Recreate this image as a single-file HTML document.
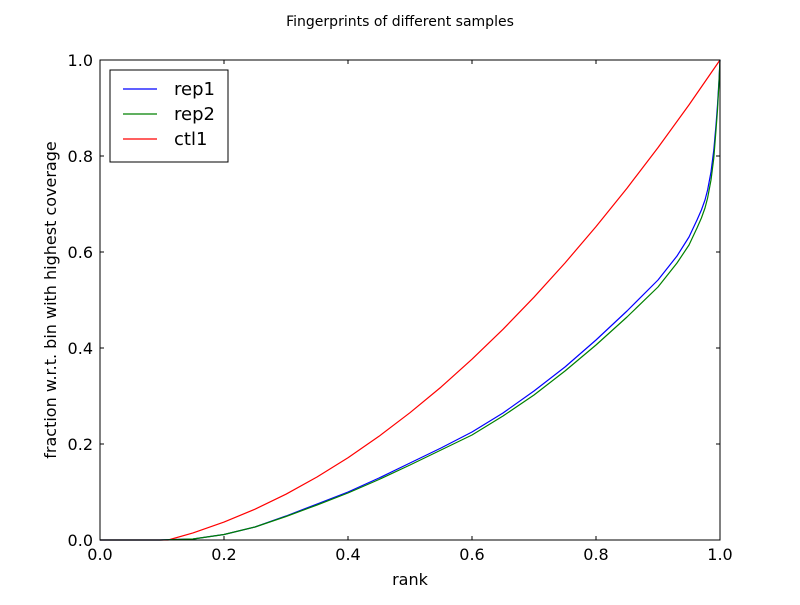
<!DOCTYPE html>
<html><head><meta charset="utf-8"><style>body{margin:0;background:#fff}</style></head>
<body>
<svg width="800" height="600" xmlns="http://www.w3.org/2000/svg" font-family="DejaVu Sans, Liberation Sans, sans-serif">
<rect width="800" height="600" fill="#fff"/>
<text x="400" y="26" text-anchor="middle" font-size="14">Fingerprints of different samples</text>
<g stroke="#000" stroke-width="1">
<line x1="100" y1="540" x2="100" y2="536"/><line x1="224" y1="540" x2="224" y2="536"/><line x1="348" y1="540" x2="348" y2="536"/><line x1="472" y1="540" x2="472" y2="536"/><line x1="596" y1="540" x2="596" y2="536"/><line x1="720" y1="540" x2="720" y2="536"/>
<line x1="100" y1="60" x2="100" y2="64"/><line x1="224" y1="60" x2="224" y2="64"/><line x1="348" y1="60" x2="348" y2="64"/><line x1="472" y1="60" x2="472" y2="64"/><line x1="596" y1="60" x2="596" y2="64"/><line x1="720" y1="60" x2="720" y2="64"/>
<line x1="100" y1="540" x2="104" y2="540"/><line x1="100" y1="444" x2="104" y2="444"/><line x1="100" y1="348" x2="104" y2="348"/><line x1="100" y1="252" x2="104" y2="252"/><line x1="100" y1="156" x2="104" y2="156"/><line x1="100" y1="60" x2="104" y2="60"/>
<line x1="720" y1="540" x2="716" y2="540"/><line x1="720" y1="444" x2="716" y2="444"/><line x1="720" y1="348" x2="716" y2="348"/><line x1="720" y1="252" x2="716" y2="252"/><line x1="720" y1="156" x2="716" y2="156"/><line x1="720" y1="60" x2="716" y2="60"/>
</g>
<g font-size="16" text-anchor="middle">
<text x="100" y="560">0.0</text><text x="224" y="560">0.2</text><text x="348" y="560">0.4</text><text x="472" y="560">0.6</text><text x="596" y="560">0.8</text><text x="720" y="560">1.0</text>
</g>
<g font-size="16" text-anchor="end">
<text x="93" y="546">0.0</text><text x="93" y="450">0.2</text><text x="93" y="354">0.4</text><text x="93" y="258">0.6</text><text x="93" y="162">0.8</text><text x="93" y="66">1.0</text>
</g>
<text x="410" y="585" text-anchor="middle" font-size="16">rank</text>
<text transform="translate(56,300) rotate(-90)" text-anchor="middle" font-size="16">fraction w.r.t. bin with highest coverage</text>
<g fill="none" stroke-width="1.2" stroke-linejoin="round">
<polyline stroke="#ff0000" points="100,540 168.2,540 193,532.9 224,522.1 255,509.2 286,494.2 317,477 348,457.7 379,436.3 410,412.7 441,387.1 472,359.2 503,329.3 534,297.2 565,263 596,226.6 627,188.2 658,147.6 689,104.9 720,60"/>
<polyline stroke="#0000ff" points="100,540 160,540 193,539 224,534.5 255,527 286,516 317,504 348,492 379,478 410,463 441,448 472,432 503,413 534,391 565,367 596,340 627,311 658,280 677,256 689,237 697,220 701.4,210 705,200 707.6,190 711,172 713.8,150 716,125 717.5,105 719,80 720,60"/>
<polyline stroke="#008000" points="100,540 160,540 193,539 224,534.5 255,527 286,516.5 317,505 348,493 379,479.5 410,465 441,450 472,435 503,416 534,395 565,371 596,345 627,317 658,287 677,263 689,245 697,228 701.4,218 705,208 707.6,198 711,180 713.8,158 716,130 717.5,110 719,82 720,60"/>
</g>
<rect x="100" y="60" width="620" height="480" fill="none" stroke="#000" stroke-width="1"/>
<rect x="110" y="70" width="118" height="92" fill="#fff" stroke="#000" stroke-width="1"/>
<line x1="123" y1="89" x2="157" y2="89" stroke="#0000ff" stroke-width="1.2"/>
<line x1="123" y1="114" x2="157" y2="114" stroke="#008000" stroke-width="1.2"/>
<line x1="123" y1="139" x2="157" y2="139" stroke="#ff0000" stroke-width="1.2"/>
<g font-size="18"><text x="174" y="95">rep1</text><text x="174" y="120">rep2</text><text x="174" y="145">ctl1</text></g>
</svg>
</body></html>
